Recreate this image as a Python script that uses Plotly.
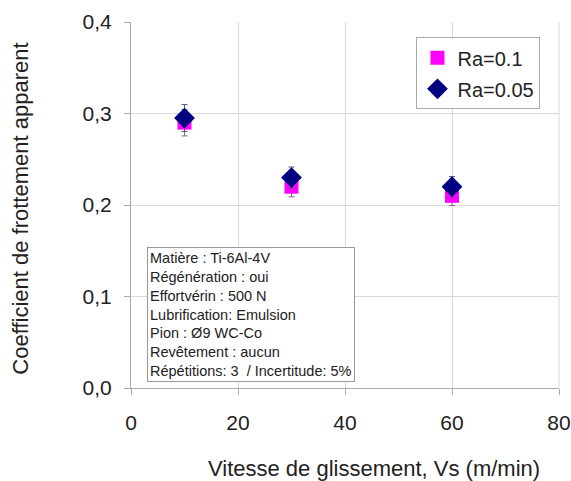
import plotly.graph_objects as go

vs = [10, 30, 60]
ra01 = [0.29, 0.22, 0.21]
ra005 = [0.295, 0.23, 0.22]
err_pct = 5

x_title = "Vitesse de glissement, Vs (m/min)"
y_title = "Coefficient de frottement apparent"

info_lines = [
    "Matière : Ti-6Al-4V",
    "Régénération : oui",
    "Effortvérin : 500 N",
    "Lubrification: Emulsion",
    "Pion : Ø9 WC-Co",
    "Revêtement : aucun",
    "Répétitions: 3  / Incertitude: 5%",
]

fig = go.Figure()
fig.add_trace(go.Scatter(
    x=vs, y=ra01, mode="markers", name="Ra=0.1", legendgroup="a",
    marker=dict(symbol="square", size=14, color="#FF00FF"),
    error_y=dict(type="percent", value=err_pct, color="#8a6a8a", thickness=1, width=3),
))
fig.add_trace(go.Scatter(
    x=vs, y=ra005, mode="markers", name="Ra=0.05", legendgroup="b",
    marker=dict(symbol="diamond", size=16, color="#000080"),
    error_y=dict(type="percent", value=err_pct, color="#555577", thickness=1, width=3),
))

fig.add_annotation(
    xref="paper", yref="paper", x=0.038, y=0.385, xanchor="left", yanchor="top",
    text="<br>".join(info_lines), align="left", showarrow=False,
    font=dict(family="Liberation Sans, Arial", size=14.5, color="#222"),
    bordercolor="#999", borderwidth=1, borderpad=2, bgcolor="white",
)
# axis titles (offset like the original chart)
fig.add_annotation(
    xref="paper", yref="paper", x=0.568, y=-0.221, xanchor="center", yanchor="middle",
    text=x_title, showarrow=False, font=dict(size=22, color="#222"),
)
fig.add_annotation(
    xref="paper", yref="paper", x=-0.257, y=0.49, xanchor="center", yanchor="middle",
    text=y_title, textangle=-90, showarrow=False, font=dict(size=22, color="#222"),
)

fig.update_layout(
    width=571, height=481,
    margin=dict(l=131, r=12, t=22, b=93, autoexpand=False),
    paper_bgcolor="white", plot_bgcolor="white",
    separators=",.",
    font=dict(family="Liberation Sans, Arial", size=21, color="#222"),
    showlegend=True,
    legend=dict(
        x=0.667, y=0.958, xanchor="left", yanchor="top",
        bordercolor="#aaa", borderwidth=1, bgcolor="white",
        font=dict(size=20), itemwidth=30, tracegroupgap=2,
    ),
    xaxis=dict(
        range=[0, 80], dtick=20, tick0=0, showgrid=True, gridcolor="#d9d9d9",
        showline=True, linecolor="#aaa", mirror=False, zeroline=False,
        ticks="outside", ticklen=6, tickcolor="#aaa", automargin=False,
        ticklabelstandoff=10,
    ),
    yaxis=dict(
        range=[0, 0.4], dtick=0.1, tick0=0, tickformat=".1f", showgrid=True,
        gridcolor="#d9d9d9", showline=True, linecolor="#aaa", zeroline=False,
        ticks="outside", ticklen=6, tickcolor="#aaa", automargin=False,
        ticklabelstandoff=8,
    ),
    shapes=[dict(type="line", xref="paper", yref="paper", x0=1, x1=1, y0=0, y1=1,
                 line=dict(color="#d9d9d9", width=1))],
)

fig.write_html("out.html")
